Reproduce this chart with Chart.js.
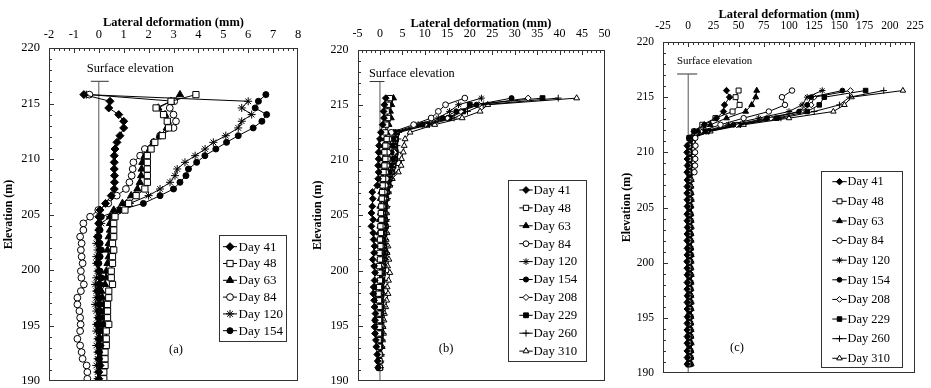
<!DOCTYPE html>
<html>
<head>
<meta charset="utf-8">
<script src="https://cdn.jsdelivr.net/npm/chart.js@4.4.1/dist/chart.umd.min.js"></script>
<style>
  html, body { margin: 0; padding: 0; background: #fff; }
  #wrap { position: relative; width: 931px; height: 388px; overflow: hidden; }
  canvas { position: absolute; top: 0; }
</style>
</head>
<body>
<div id="wrap">
  <canvas id="pa" width="310" height="388" style="left:0;width:310px;height:388px"></canvas>
  <canvas id="pb" width="310" height="388" style="left:310px;width:310px;height:388px"></canvas>
  <canvas id="pc" width="311" height="388" style="left:620px;width:311px;height:388px"></canvas>
</div>
<script>
// ---- data (lateral deformation in mm vs elevation in m) ----
const daysA = ['Day 41', 'Day 48', 'Day 63', 'Day 84', 'Day 120', 'Day 154'];
const daysBC = ['Day 41', 'Day 48', 'Day 63', 'Day 84', 'Day 120', 'Day 154', 'Day 208', 'Day 229', 'Day 260', 'Day 310'];

const elevA = [215.8, 215.2, 214.6, 214.0, 213.4, 212.8, 212.1, 211.5, 210.9, 210.3, 209.7, 209.1, 208.5, 207.9, 207.3, 206.7, 206.0, 205.4, 204.8, 204.2, 203.6, 203.0, 202.4, 201.8, 201.2, 200.6, 199.9, 199.3, 198.7, 198.1, 197.5, 196.9, 196.3, 195.7, 195.1, 194.5, 193.8, 193.2, 192.6, 192.0, 191.4, 190.8, 190.2];
const elevB = [215.6, 215.0, 214.4, 213.8, 213.2, 212.5, 211.9, 211.3, 210.7, 210.1, 209.5, 208.9, 208.3, 207.7, 207.1, 206.5, 205.8, 205.2, 204.6, 204.0, 203.4, 202.8, 202.2, 201.6, 201.0, 200.4, 199.8, 199.1, 198.5, 197.9, 197.3, 196.7, 196.1, 195.5, 194.9, 194.3, 193.7, 193.1, 192.4, 191.8, 191.2];
const elevC = [215.6, 215.0, 214.3, 213.7, 213.1, 212.5, 211.9, 211.3, 210.6, 210.0, 209.4, 208.8, 208.2, 207.5, 206.9, 206.3, 205.7, 205.1, 204.4, 203.8, 203.2, 202.6, 202.0, 201.3, 200.7, 200.1, 199.5, 198.9, 198.2, 197.6, 197.0, 196.4, 195.8, 195.1, 194.5, 193.9, 193.3, 192.7, 192.0, 191.4, 190.8];

// panel (a)
const day41A = [-0.6, 0.45, 0.4, 0.8, 1.0, 1.0, 0.85, 0.73, 0.65, 0.62, 0.62, 0.62, 0.63, 0.63, 0.62, 0.5, 0.27, 0.05, 0.0, 0.0, 0.0, -0.05, 0.0, 0.05, 0.0, -0.05, 0.0, 0.05, 0.0, -0.05, 0.0, 0.0, 0.05, 0.0, -0.05, 0.0, 0.0, 0.05, 0.0, 0.0, 0.05, 0.0, 0.0];
const day48A = [3.9, 2.9, 2.3, 2.6, 2.75, 2.8, 2.55, 2.25, 2.1, 1.95, 1.95, 1.95, 1.95, 1.95, 1.85, 1.5, 1.2, 1.05, 0.65, 0.6, 0.6, 0.6, 0.55, 0.6, 0.55, 0.55, 0.5, 0.5, 0.55, 0.4, 0.4, 0.35, 0.35, 0.35, 0.4, 0.3, 0.3, 0.3, 0.25, 0.25, 0.25, 0.2, 0.2];
const day63A = [3.26, 2.9, 2.39, 2.66, 2.77, 2.73, 2.45, 2.2, 2.05, 1.85, 1.75, 1.72, 1.7, 1.65, 1.55, 1.3, 0.95, 0.6, 0.45, 0.45, 0.45, 0.4, 0.4, 0.35, 0.4, 0.35, 0.3, 0.3, 0.25, 0.1, 0.15, 0.2, 0.2, 0.15, 0.2, 0.15, 0.15, 0.2, 0.15, 0.1, 0.15, 0.1, 0.1];
const day84A = [-0.38, 3.03, 2.85, 3.0, 3.1, 3.0, 2.46, 2.2, 1.85, 1.66, 1.39, 1.36, 1.32, 1.23, 1.09, 0.72, 0.38, -0.02, -0.35, -0.62, -0.62, -0.75, -0.69, -0.72, -0.69, -0.65, -0.72, -0.7, -0.6, -0.72, -0.86, -0.86, -0.78, -0.75, -0.73, -0.75, -0.86, -0.75, -0.69, -0.65, -0.49, -0.46, -0.46];
const day120A = [-0.5, 6.0, 5.74, 6.14, 5.74, 5.6, 5.1, 4.6, 4.27, 3.87, 3.46, 3.15, 3.06, 2.86, 2.46, 2.0, 1.25, 0.85, 0.45, 0.1, 0.0, -0.05, -0.1, -0.05, -0.1, -0.1, -0.05, -0.1, -0.15, -0.1, -0.1, -0.15, -0.1, -0.05, -0.1, -0.1, -0.05, -0.1, -0.05, -0.05, -0.1, -0.05, -0.05];
const day154A = [6.71, 6.41, 6.28, 6.74, 6.55, 6.2, 5.6, 5.13, 4.7, 4.26, 3.93, 3.6, 3.5, 3.26, 3.0, 2.46, 1.79, 0.85, 0.1, 0.0, 0.05, 0.0, 0.05, 0.1, 0.05, 0.0, 0.05, 0.1, 0.05, 0.0, 0.05, 0.05, 0.0, 0.05, 0.1, 0.05, 0.05, 0.0, 0.05, 0.1, 0.05, 0.05, 0.1];

// panel (b)
const day41B = [1.3, 1.0, 0.8, 0.9, 0.6, 0.2, 0.0, -0.2, -0.3, -0.3, -0.4, -0.3, -0.4, -0.6, -1.7, -1.6, -1.7, -1.9, -1.5, -1.9, -1.5, -1.4, -1.2, -1.3, -1.6, -1.3, -1.1, -1.2, -1.4, -1.5, -1.3, -1.2, -1.0, -1.1, -1.2, -1.1, -0.9, -0.8, -0.6, -0.5, -0.4];
const day48B = [2.2, 1.8, 1.5, 1.8, 1.4, 1.2, 1.5, 1.2, 1.0, 1.2, 1.0, 0.8, 0.7, 0.6, 0.5, 0.4, 0.3, 0.2, 0.3, 0.1, 0.2, 0.0, 0.1, -0.1, 0.0, -0.2, -0.1, 0.0, -0.2, -0.3, -0.2, -0.1, -0.3, -0.2, -0.1, -0.2, -0.3, -0.2, -0.1, -0.1, 0.0];
const day63B = [3.0, 2.6, 2.3, 2.5, 2.0, 1.5, 1.2, 0.9, 0.7, 0.8, 0.6, 0.5, 0.5, 0.3, 0.2, 0.1, 0.0, 0.1, -0.1, 0.0, -0.2, -0.1, 0.0, 0.1, -0.1, 0.0, 0.2, 0.1, 0.0, -0.1, 0.0, 0.1, 0.0, -0.1, 0.0, 0.1, 0.0, 0.0, -0.1, 0.0, 0.0];
const day84B = [18.9, 14.6, 13.0, 11.4, 7.5, 2.5, 2.0, 1.6, 1.8, 1.7, 1.5, 1.3, 1.4, 1.2, 1.0, 0.8, 0.6, 0.5, 0.4, 0.5, 0.3, 0.2, 0.3, 0.1, 0.2, 0.3, 0.2, 0.0, -0.2, 0.0, -0.3, -0.2, 0.0, -0.1, 0.1, 0.0, -0.1, -0.2, 0.0, -0.1, 0.0];
const day120B = [22.6, 17.5, 15.5, 13.0, 8.5, 3.0, 2.5, 2.2, 2.0, 2.3, 2.0, 1.8, 1.5, 1.2, 1.0, 0.8, 0.9, 0.6, 0.5, 0.7, 0.4, 0.5, 0.3, 0.6, 0.4, 0.2, 0.5, 0.3, 0.1, 0.2, 0.0, 0.2, 0.1, -0.1, 0.0, 0.1, -0.1, 0.0, 0.1, 0.0, 0.0];
const day154B = [29.3, 21.5, 17.0, 14.0, 9.5, 3.3, 3.0, 2.8, 2.6, 2.9, 2.5, 2.2, 1.8, 1.5, 1.2, 1.0, 1.1, 0.8, 0.7, 0.9, 0.6, 0.7, 0.5, 0.8, 0.6, 0.4, 0.6, 0.5, 0.3, 0.4, 0.2, 0.3, 0.2, 0.0, 0.1, 0.2, 0.0, 0.1, 0.0, -0.1, 0.0];
const day208B = [33.0, 22.0, 18.0, 15.0, 10.0, 3.5, 3.3, 3.0, 3.2, 3.1, 2.8, 2.5, 2.0, 1.7, 1.4, 1.2, 1.3, 1.0, 0.9, 1.1, 0.8, 0.9, 0.7, 1.0, 0.8, 0.6, 0.8, 0.6, 0.4, 0.6, 0.4, 0.5, 0.3, 0.2, 0.3, 0.4, 0.2, 0.3, 0.1, 0.0, 0.0];
const day229B = [36.2, 20.0, 18.5, 15.5, 10.5, 3.8, 3.6, 3.3, 3.5, 3.4, 3.0, 2.7, 2.2, 1.9, 1.6, 1.4, 1.2, 1.0, 1.1, 1.3, 1.0, 0.7, 0.9, 1.2, 1.0, 0.8, 0.6, 0.5, -0.6, -1.1, -0.8, 0.2, 0.3, -1.0, -0.6, 0.0, 0.1, 0.0, -0.2, -0.3, -0.3];
const day260B = [39.7, 23.0, 19.5, 16.5, 11.0, 4.2, 4.0, 3.8, 4.0, 3.8, 3.5, 3.2, 2.5, 2.2, 1.9, 1.7, 1.6, 1.4, 1.5, 1.7, 1.4, 1.2, 1.3, 1.5, 1.3, 1.1, 1.2, 1.0, 0.8, 0.9, 0.7, 0.8, 0.6, 0.5, 0.6, 0.7, 0.5, 0.4, 0.3, 0.2, 0.1];
const day310B = [43.8, 24.0, 22.3, 18.3, 12.2, 6.7, 5.6, 5.4, 5.2, 4.8, 4.7, 4.1, 2.75, 2.2, 1.9, 1.5, 1.5, 1.5, 1.4, 1.3, 1.6, 1.4, 1.8, 1.6, 2.0, 1.7, 2.2, 1.9, 1.6, 1.8, 1.5, 1.3, 1.0, 0.9, 0.7, 0.8, 0.6, 0.5, 0.3, 0.1, -0.1];

// panel (c)
const day41C = [38, 41, 36, 35, 28, 16, 6, 1, -1.0, -1.2, -1.0, -0.8, -1.1, -0.9, -1.0, -1.2, -1.0, -0.9, -1.1, -1.0, -0.8, -1.0, -1.1, -0.9, -1.0, -1.2, -1.0, -0.9, -1.0, -1.1, -0.9, -1.0, -1.0, -0.8, -1.0, -1.1, -0.9, -1.0, -1.0, -0.9, -1.0];
const day48C = [50, 47, 51, 44, 27, 14, 6, 1, 0.5, 0.3, 0.6, 0.4, 0.2, 0.5, 0.3, 0.4, 0.6, 0.3, 0.2, 0.4, 0.5, 0.3, 0.4, 0.2, 0.3, 0.5, 0.4, 0.2, 0.3, 0.4, 0.3, 0.2, 0.4, 0.3, 0.5, 0.3, 0.2, 0.3, 0.4, 0.3, 0.2];
const day63C = [68, 67, 63, 57, 38, 22, 10, 2, 1.0, 0.8, 0.6, 0.9, 0.7, 0.5, 0.8, 0.6, 0.7, 0.9, 0.6, 0.5, 0.7, 0.8, 0.6, 0.5, 0.7, 0.6, 0.8, 0.5, 0.6, 0.7, 0.5, 0.6, 0.8, 0.6, 0.5, 0.7, 0.6, 0.5, 0.6, 0.7, 0.5];
const day84C = [103, 93, 96, 80, 55, 32, 12, 7, 7.2, 6.8, 7.0, 6.8, 6.2, 2.0, 1.5, 1.2, 1.0, 0.8, 1.1, 0.9, 0.7, 1.0, 0.8, 0.6, 0.9, 0.7, 0.8, 1.0, 0.7, 0.6, 0.8, 0.9, 0.7, 0.6, 0.8, 0.7, 0.5, 0.7, 0.8, 0.6, 0.7];
const day120C = [133, 118, 113, 100, 70, 40, 15, 3, 1.2, 1.0, 1.3, 1.1, 0.9, 1.2, 1.0, 1.1, 0.9, 1.2, 1.0, 0.8, 1.1, 1.0, 0.9, 1.1, 1.2, 1.0, 0.9, 1.1, 1.0, 0.8, 1.0, 1.1, 0.9, 1.0, 1.2, 1.0, 0.9, 1.0, 1.1, 0.9, 1.0];
const day154C = [153, 122, 118, 110, 78, 45, 17, 3, 1.5, 1.7, 1.4, 1.6, 1.5, 1.3, 1.6, 1.4, 1.5, 1.7, 1.4, 1.3, 1.5, 1.6, 1.4, 1.5, 1.3, 1.6, 1.5, 1.4, 1.6, 1.5, 1.3, 1.4, 1.5, 1.6, 1.4, 1.3, 1.5, 1.4, 1.6, 1.5, 1.4];
const day208C = [161, 125, 122, 112, 82, 48, 18, 4, 2.0, 1.8, 2.1, 1.9, 2.2, 2.0, 1.8, 1.9, 2.1, 2.0, 1.8, 2.0, 1.9, 2.1, 2.0, 1.8, 1.9, 2.0, 2.2, 1.9, 1.8, 2.0, 2.1, 1.9, 2.0, 1.8, 1.9, 2.0, 2.1, 1.9, 1.8, 2.0, 1.9];
const day229C = [176, 135, 130, 118, 88, 50, 19, 4, 2.3, 2.5, 2.2, 2.4, 2.6, 2.3, 2.1, 2.4, 2.5, 2.2, 2.3, 2.5, 2.4, 2.2, 2.3, 2.4, 2.6, 2.3, 2.2, 2.4, 2.5, 2.3, 2.2, 2.4, 2.3, 2.5, 2.2, 2.3, 2.4, 2.2, 2.3, 2.4, 2.2];
const day260C = [194, 160, 150, 125, 92, 52, 20, 4, 2.8, 2.6, 2.9, 2.7, 2.5, 2.8, 2.6, 2.7, 2.9, 2.6, 2.5, 2.7, 2.8, 2.6, 2.7, 2.5, 2.8, 2.7, 2.6, 2.8, 2.7, 2.5, 2.6, 2.8, 2.7, 2.6, 2.5, 2.7, 2.6, 2.8, 2.6, 2.5, 2.7];
const day310C = [213, 162, 155, 144, 100, 55, 22, 5, 3.2, 3.0, 3.3, 3.1, 2.9, 3.2, 3.0, 3.1, 3.3, 3.0, 2.9, 3.1, 3.2, 3.0, 3.1, 2.9, 3.2, 3.1, 3.0, 3.2, 3.1, 2.9, 3.0, 3.2, 3.1, 3.0, 2.9, 3.1, 3.0, 3.2, 3.0, 2.9, 3.1];

const seriesA = [day41A, day48A, day63A, day84A, day120A, day154A];
const seriesB = [day41B, day48B, day63B, day84B, day120B, day154B, day208B, day229B, day260B, day310B];
const seriesC = [day41C, day48C, day63C, day84C, day120C, day154C, day208C, day229C, day260C, day310C];

// marker look per day (shared by the three panels)
const markers = {
  'Day 41':  { shape: 'rectRot',  fill: '#000', r: 4.0 },
  'Day 48':  { shape: 'rect',     fill: '#fff', r: 4.4 },
  'Day 63':  { shape: 'triangle', fill: '#000', r: 4.2 },
  'Day 84':  { shape: 'circle',   fill: '#fff', r: 3.4 },
  'Day 120': { shape: 'star',     fill: '#000', r: 4.0 },
  'Day 154': { shape: 'circle',   fill: '#000', r: 3.0 },
  'Day 208': { shape: 'rectRot',  fill: '#fff', r: 3.6 },
  'Day 229': { shape: 'rect',     fill: '#000', r: 4.0 },
  'Day 260': { shape: 'cross',    fill: '#000', r: 4.0 },
  'Day 310': { shape: 'triangle', fill: '#fff', r: 4.0 }
};

const FONT = '"Liberation Serif", "Times New Roman", serif';

const panels = [
  {
    id: 'pa', w: 310, plot: { l: 49, t: 48, r: 298, b: 381 },
    x: { min: -2, max: 8, step: 1, minor: 0.2, every: 5 },
    tickSize: 12.5, tickPad: 6, titleTop: 15, yTitlePad: 1.5, size: 1.0,
    elev: elevA, days: daysA, series: seriesA,
    surface: { top: 217.0, bar: [-0.32, 0.4], text: { x: 86.7, y: 69, size: 12.5 } },
    legend: { box: [219, 235, 285.7, 341], x1: 223, x2: 237, tx: 238.5, y0: 246.7, dy: 16.8, size: 13 },
    tag: { text: '(a)', x: 176, y: 350 }
  },
  {
    id: 'pb', w: 310, plot: { l: 47.5, t: 49.5, r: 294.5, b: 381 },
    x: { min: -5, max: 50, step: 5, minor: 1, every: 5 },
    tickSize: 12, tickPad: 8, titleTop: 16, yTitlePad: 1.2, size: 0.85,
    elev: elevB, days: daysBC, series: seriesB,
    surface: { top: 217.1, bar: [-2.3, 1.0], text: { x: 59, y: 74, size: 12.3 } },
    legend: { box: [198.3, 180, 276, 361], x1: 209.3, x2: 222.7, tx: 223.5, y0: 190, dy: 17.9, size: 12.8 },
    tag: { text: '(b)', x: 136, y: 349 }
  },
  {
    id: 'pc', w: 311, plot: { l: 43, t: 42, r: 295, b: 373 },
    x: { min: -25, max: 225, step: 25, minor: 5, every: 5 },
    tickSize: 11.5, tickPad: 9, titleTop: 7.5, yTitlePad: 0, size: 0.8,
    elev: elevC, days: daysBC, series: seriesC,
    surface: { top: 217.1, bar: [-11, 9], text: { x: 57, y: 61, size: 10.8 } },
    legend: { box: [200.7, 170.7, 281.7, 367], x1: 212.3, x2: 226.7, tx: 227.5, y0: 181.7, dy: 19.62, size: 12.4 },
    tag: { text: '(c)', x: 117, y: 348 }
  }
];

// plot frame with inward ticks; the plot box is the one the layout is forced to
const framePlugin = {
  id: 'frame',
  afterDatasetsDraw(chart, args, o) {
    const ctx = chart.ctx;
    const l = Math.round(o.l), t = Math.round(o.t), r = Math.round(o.r), b = Math.round(o.b);
    ctx.save();
    ctx.fillStyle = '#333';
    ctx.fillRect(l, t, r - l, 1);
    ctx.fillRect(l, b - 1, r - l, 1);
    ctx.fillRect(l, t, 1, b - t);
    ctx.fillRect(r - 1, t, 1, b - t);
    const nx = Math.round((o.max - o.min) / o.minor);
    for (let i = 0; i <= nx; i++) {
      const px = Math.round(o.l + (o.r - o.l) * i / nx);
      ctx.fillRect(Math.min(px, r - 1), t, 1, i % o.every === 0 ? 5 : 3);
    }
    for (let v = 0; v <= 30; v++) {
      const py = Math.round(o.b - (o.b - o.t) * v / 30);
      ctx.fillRect(l, Math.min(py, b - 1), v % 5 === 0 ? 5 : 3, 1);
    }
    ctx.restore();
  }
};

// surface-elevation label, panel tag and the boxed legend
const notesPlugin = {
  id: 'notes',
  afterDatasetsDraw(chart, args, o) {
    const ctx = chart.ctx;
    const L = o.legend;
    ctx.save();
    ctx.fillStyle = '#000';
    ctx.textBaseline = 'middle';
    ctx.font = o.surf.size + 'px ' + FONT;
    ctx.fillText('Surface elevation', o.surf.x, o.surf.y);
    ctx.font = '12.5px ' + FONT;
    ctx.textAlign = 'center';
    ctx.fillText(o.tag.text, o.tag.x, o.tag.y);
    ctx.textAlign = 'left';

    ctx.fillStyle = '#fff';
    ctx.fillRect(L.box[0], L.box[1], L.box[2] - L.box[0], L.box[3] - L.box[1]);
    ctx.strokeStyle = '#333';
    ctx.lineWidth = 1;
    ctx.strokeRect(Math.round(L.box[0]) + 0.5, Math.round(L.box[1]) + 0.5,
      Math.round(L.box[2] - L.box[0]), Math.round(L.box[3] - L.box[1]));

    ctx.font = L.size + 'px ' + FONT;
    chart.data.datasets.filter(d => !d.deco).forEach((d, i) => {
      const y = L.y0 + i * L.dy;
      ctx.strokeStyle = '#000';
      ctx.lineWidth = 1;
      ctx.beginPath(); ctx.moveTo(L.x1, y); ctx.lineTo(L.x2, y); ctx.stroke();
      ctx.fillStyle = d.pointBackgroundColor;
      Chart.helpers.drawPoint(ctx, { pointStyle: d.pointStyle, radius: d.pointRadius, rotation: 0, borderWidth: 1 },
        (L.x1 + L.x2) / 2, y);
      ctx.fillStyle = '#000';
      ctx.fillText(d.label, L.tx, y + 0.5);
    });
    ctx.restore();
  }
};

panels.forEach(p => {
  const datasets = p.days.map((day, k) => {
    const m = markers[day];
    return {
      label: day,
      data: p.series[k].map((v, i) => ({ x: v, y: p.elev[i] })),
      showLine: true,
      borderColor: '#000',
      borderWidth: 1,
      pointStyle: m.shape,
      pointRadius: m.r * p.size,
      pointHoverRadius: m.r * p.size,
      pointBackgroundColor: m.fill,
      pointBorderColor: '#000',
      pointBorderWidth: 1,
      order: k
    };
  });
  // surface elevation marker: a vertical line at zero with a short cap
  datasets.push({
    deco: true, label: 'surface', showLine: true, pointRadius: 0, borderColor: '#555', borderWidth: 1, order: 50,
    data: [{ x: 0, y: 190 }, { x: 0, y: p.surface.top }]
  });
  datasets.push({
    deco: true, label: 'surface cap', showLine: true, pointRadius: 0, borderColor: '#333', borderWidth: 1, order: 50,
    data: [{ x: p.surface.bar[0], y: p.surface.top }, { x: p.surface.bar[1], y: p.surface.top }]
  });

  const tickFont = { family: FONT, size: p.tickSize };
  new Chart(document.getElementById(p.id), {
    type: 'scatter',
    data: { datasets },
    options: {
      responsive: false,
      animation: false,
      devicePixelRatio: 1,
      events: [],
      layout: { padding: { left: 0, top: 0, right: p.w - p.plot.r, bottom: 388 - p.plot.b } },
      plugins: {
        legend: { display: false },
        tooltip: { enabled: false },
        frame: {
          l: p.plot.l, t: p.plot.t, r: p.plot.r, b: p.plot.b,
          min: p.x.min, max: p.x.max, minor: p.x.minor, every: p.x.every
        },
        notes: { surf: p.surface.text, tag: p.tag, legend: p.legend }
      },
      scales: {
        x: {
          type: 'linear', position: 'top', min: p.x.min, max: p.x.max,
          afterFit: s => { s.height = p.plot.t; s.paddingLeft = 0; s.paddingRight = 0; },
          grid: { display: false, drawTicks: false, tickLength: 0 }, border: { display: false },
          ticks: { stepSize: p.x.step, padding: p.tickPad, color: '#000', font: tickFont, maxRotation: 0, autoSkip: false },
          title: {
            display: true, text: 'Lateral deformation (mm)', color: '#000',
            font: { family: FONT, size: 12.5, weight: 'bold' },
            padding: { top: p.titleTop, bottom: 0 }
          }
        },
        y: {
          type: 'linear', min: 190, max: 220,
          afterFit: s => { s.width = p.plot.l; s.paddingTop = 0; s.paddingBottom = 0; },
          grid: { display: false, drawTicks: false, tickLength: 0 }, border: { display: false },
          ticks: { stepSize: 5, padding: 9, color: '#000', font: tickFont },
          title: {
            display: true, text: 'Elevation (m)', color: '#000',
            font: { family: FONT, size: 12, weight: 'bold' },
            padding: { top: p.yTitlePad, bottom: 0 }
          }
        }
      }
    },
    plugins: [framePlugin, notesPlugin]
  });
});
</script>
</body>
</html>
